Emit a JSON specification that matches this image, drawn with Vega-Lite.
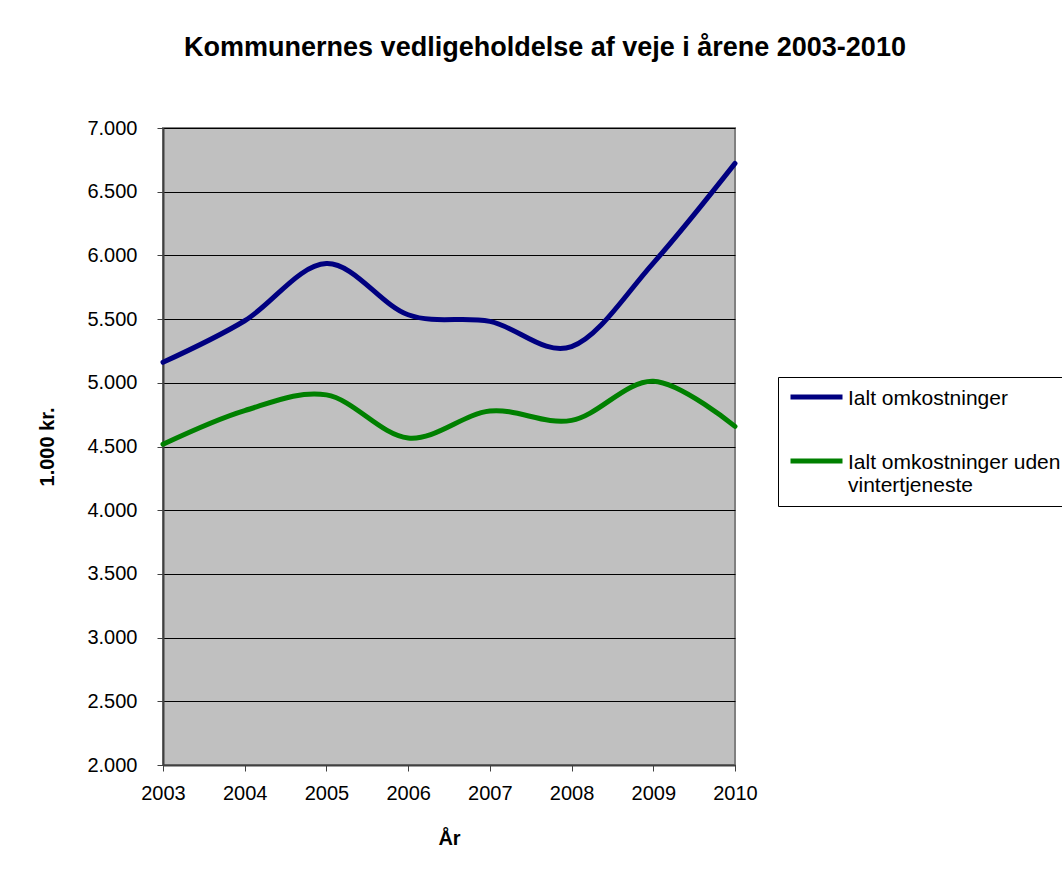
{
  "$schema": "https://vega.github.io/schema/vega-lite/v6.json",
  "autosize": "none",
  "width": 572,
  "height": 637,
  "padding": {"left": 163, "top": 128, "right": 327, "bottom": 109},
  "background": "white",
  "title": {
    "text": "Kommunernes vedligeholdelse af veje i årene 2003-2010",
    "font": "Liberation Sans",
    "fontSize": 27,
    "fontWeight": "bold",
    "color": "black",
    "anchor": "middle",
    "frame": "group",
    "dx": 96,
    "offset": 56
  },
  "data": {
    "values": [
      {"year": 2003, "series": "Ialt omkostninger", "value": 5161},
      {"year": 2004, "series": "Ialt omkostninger", "value": 5487},
      {"year": 2005, "series": "Ialt omkostninger", "value": 5936},
      {"year": 2006, "series": "Ialt omkostninger", "value": 5534},
      {"year": 2007, "series": "Ialt omkostninger", "value": 5482},
      {"year": 2008, "series": "Ialt omkostninger", "value": 5284},
      {"year": 2009, "series": "Ialt omkostninger", "value": 5940},
      {"year": 2010, "series": "Ialt omkostninger", "value": 6722},
      {"year": 2003, "series": "Ialt omkostninger uden vintertjeneste", "value": 4518},
      {"year": 2004, "series": "Ialt omkostninger uden vintertjeneste", "value": 4782},
      {"year": 2005, "series": "Ialt omkostninger uden vintertjeneste", "value": 4905},
      {"year": 2006, "series": "Ialt omkostninger uden vintertjeneste", "value": 4567},
      {"year": 2007, "series": "Ialt omkostninger uden vintertjeneste", "value": 4778},
      {"year": 2008, "series": "Ialt omkostninger uden vintertjeneste", "value": 4705},
      {"year": 2009, "series": "Ialt omkostninger uden vintertjeneste", "value": 5012},
      {"year": 2010, "series": "Ialt omkostninger uden vintertjeneste", "value": 4658}
    ]
  },
  "mark": {"type": "line", "interpolate": "cardinal", "tension": 0, "strokeWidth": 5, "strokeCap": "round", "strokeJoin": "round"},
  "encoding": {
    "x": {
      "field": "year",
      "type": "quantitative",
      "scale": {"domain": [2003, 2010], "nice": false, "zero": false},
      "axis": {
        "title": "År",
        "values": [2003, 2004, 2005, 2006, 2007, 2008, 2009, 2010],
        "format": "d",
        "grid": false,
        "labelFlush": false,
        "tickSize": 6,
        "labelPadding": 12,
        "titlePadding": 25
      }
    },
    "y": {
      "field": "value",
      "type": "quantitative",
      "scale": {"domain": [2000, 7000], "nice": false, "zero": false},
      "axis": {
        "title": "1.000 kr.",
        "values": [2000, 2500, 3000, 3500, 4000, 4500, 5000, 5500, 6000, 6500, 7000],
        "labelExpr": "replace(format(datum.value, ','), ',', '.')",
        "grid": true,
        "gridColor": "black",
        "gridWidth": 1,
        "gridOpacity": 1,
        "labelFlush": false,
        "tickSize": 6,
        "labelPadding": 20,
        "titlePadding": 29
      }
    },
    "color": {
      "field": "series",
      "type": "nominal",
      "scale": {
        "domain": ["Ialt omkostninger", "Ialt omkostninger uden vintertjeneste"],
        "range": ["#000080", "#008000"]
      },
      "legend": {
        "title": null,
        "orient": "none",
        "legendX": 615,
        "legendY": 249,
        "symbolType": "stroke",
        "symbolSize": 2704,
        "symbolStrokeWidth": 5,
        "clipHeight": 20,
        "rowPadding": 42,
        "padding": {"value": 10},
        "fillColor": "white",
        "strokeColor": "black",
        "labelFont": "Liberation Sans",
        "labelFontSize": 21,
        "labelColor": "black",
        "labelLimit": 400,
        "labelOffset": 3,
        "labelBaseline": "alphabetic",
        "labelExpr": "datum.label == 'Ialt omkostninger uden vintertjeneste' ? ['Ialt omkostninger uden', 'vintertjeneste'] : datum.label",
        "encode": {"labels": {"update": {"dy": {"value": 8}}}}
      }
    }
  },
  "config": {
    "view": {"fill": "#C0C0C0", "stroke": "#808080", "strokeWidth": 2},
    "axis": {
      "labelFont": "Liberation Sans",
      "labelFontSize": 20,
      "labelColor": "black",
      "titleFont": "Liberation Sans",
      "titleFontSize": 20,
      "titleFontWeight": "bold",
      "titleColor": "black",
      "domainColor": "#404040",
      "domainWidth": 2,
      "tickColor": "#404040",
      "tickWidth": 1
    }
  }
}
